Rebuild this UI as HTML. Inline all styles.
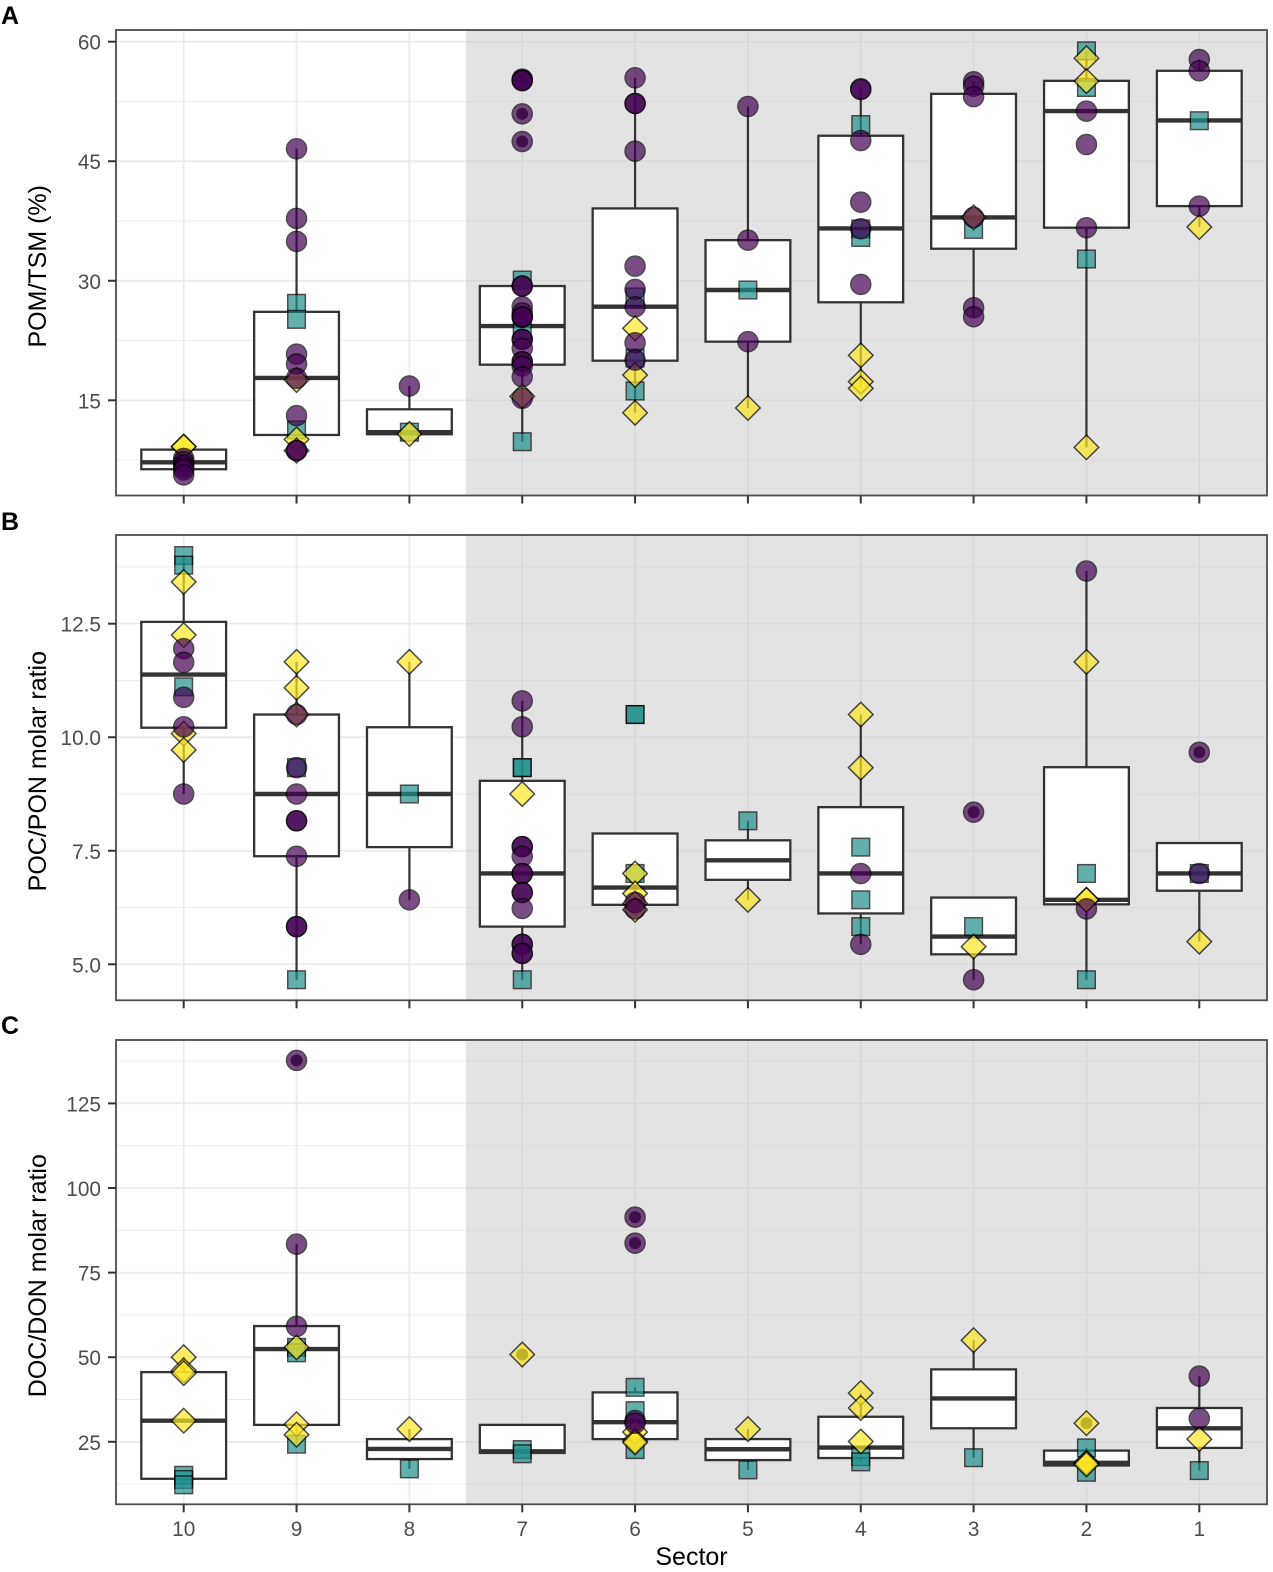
<!DOCTYPE html>
<html lang="en">
<head>
<meta charset="utf-8">
<title>POM/TSM, POC/PON and DOC/DON by sector</title>
<style>
  html, body { margin: 0; padding: 0; background: #fff; }
  #figure { display: block; width: 1273px; height: 1572px; }
  text { font-family: "Liberation Sans", Arial, sans-serif; }
</style>
</head>
<body>
<svg id="figure" xmlns="http://www.w3.org/2000/svg" width="1273" height="1572" viewBox="0 0 1273 1572"></svg>
<script>
// ---------- shared ----------
const sectors = ["10","9","8","7","6","5","4","3","2","1"];

// ---------- panel A : POM/TSM ----------
const pomTicks = [15,30,45,60];
const pomTickLabels = ["15","30","45","60"];
const pomMinor = [7.5,22.5,37.5,52.5];
const pomQ1 = [6.35,10.65,10.74,19.47,19.97,22.36,27.3,34.02,36.66,39.37];
const pomMedian = [7.22,17.8,11,24.32,26.75,28.84,36.57,37.95,51.29,50.12];
const pomQ3 = [8.81,26.1,13.87,29.34,39.08,35.1,48.2,53.46,55.09,56.35];
const pomWhiskerLow = [5.64,8.69,10.74,9.8,13.44,14.04,16.5,25.49,9.1,36.74];
const pomWhiskerHigh = [9.2,46.56,16.8,30.1,55.47,51.87,54.1,54.97,58.85,57.77];
const pomOutliers = [[],[],[],[55.18,50.95,47.48],[],[],[],[],[],[]];
const pomSquares = [[],[27.17,25.16,11.28],[11],[30.09,23.8,9.8],[27.96,20.3,16.17],[28.84],[49.6,36.5,35.44],[36.45],[58.85,54.26,32.73],[50.08]];
const pomDiamonds = [[9.19,9.19],[17.55,10.1,8.69],[10.78],[15.5],[24.03,18.17,13.44],[14.04],[20.64,17.34,16.5],[37.95],[57.93,55.05,9.1],[36.74]];
const pomCircles = [
  [7.7,7.3,6.9,6.6,6.26,5.64],
  [46.56,37.83,34.94,20.8,19.56,17.76,13.08,8.69,8.69],
  [16.8],
  [55.3,55.18,55.1,50.95,47.48,29.34,29.34,26.74,25.95,25.45,25.45,25.45,22.65,22.65,21.52,19.84,19.84,19.3,17.96,15.25],
  [55.47,52.25,52.25,46.27,31.84,28.92,26.74,22.22,20.05],
  [51.87,35.1,22.36],
  [54.1,54.0,47.6,39.87,36.53,29.55],
  [54.97,54.42,53.1,37.95,26.62,25.49],
  [51.29,47.1,36.66],
  [57.77,56.35,39.37]
];

// ---------- panel B : POC/PON ----------
const pocTicks = [5,7.5,10,12.5];
const pocTickLabels = ["5.0","7.5","10.0","12.5"];
const pocMinor = [6.25,8.75,11.25,13.75];
const pocQ1 = [10.21,7.38,7.58,5.83,6.31,6.86,6.12,5.22,6.32,6.62];
const pocMedian = [11.38,8.75,8.75,7.0,6.69,7.29,7.0,5.61,6.42,7.0];
const pocQ3 = [12.54,10.5,10.22,9.04,7.88,7.73,8.46,6.47,9.34,7.67];
const pocWhiskerLow = [8.75,4.66,6.42,4.66,6.2,6.42,5.44,4.66,4.66,5.5];
const pocWhiskerHigh = [14.0,11.66,11.66,10.8,7.88,8.16,10.5,6.47,13.66,7.67];
const pocOutliers = [[],[],[],[],[],[],[],[8.35],[],[9.67]];
const pocSquares = [[14.0,13.79,11.11],[9.33,4.66],[8.75],[9.33,9.33,4.66],[10.5,10.5,7.0],[8.16],[7.58,6.42,5.83],[5.83],[7.0,4.66],[7.0]];
const pocDiamonds = [[13.42,12.25,10.08,9.72],[11.66,11.09,10.5],[11.66],[8.75],[7.0,6.56,6.34,6.2],[6.42],[10.5,9.33],[5.39],[11.66,6.42,6.42],[5.5]];
const pocCircles = [
  [11.95,11.65,10.88,10.23,8.75],
  [10.5,9.33,8.75,8.16,8.16,7.38,5.83,5.83],
  [6.42],
  [10.8,10.23,7.59,7.59,7.38,7.0,7.0,6.58,6.58,6.23,5.44,5.44,5.24,5.24],
  [6.36,6.22],
  [],
  [7.0,5.44],
  [8.35,4.66],
  [13.66,6.22],
  [9.67,7.0]
];

// ---------- panel C : DOC/DON ----------
const docTicks = [25,50,75,100,125];
const docTickLabels = ["25","50","75","100","125"];
const docMinor = [12.5,37.5,62.5,87.5,112.5,137.5];
const docQ1 = [14.07,30,19.9,21.7,25.8,19.6,20.2,29,18,23.2];
const docMedian = [31.24,52.4,22.9,22.2,30.8,22.8,23.3,37.8,18.8,29];
const docQ3 = [45.6,59.2,25.8,30,39.6,25.8,32.4,46.4,22.4,35];
const docWhiskerLow = [12.3,24.3,17,21.5,22.7,16.7,19.07,20.3,16,16.5];
const docWhiskerHigh = [50,83.4,28.75,30,41.1,28.75,39.4,55,23.2,44.4];
const docOutliers = [[],[137.7],[],[50.8],[91.4,83.7],[],[],[],[30.5],[]];
const docSquares = [[15.1,13.87,12.3],[52.9,51.3,24.3],[17],[22.7,21.46],[41.1,34.2,22.7],[16.7],[20.6,19.07],[20.3],[23.2,16.0],[16.5]];
const docDiamonds = [[50,46.1,45.3,31.24],[52.9,30.2,27.1],[28.75],[50.8],[27.9,25.3,24.8],[28.75],[39.4,35,25.1],[55],[30.5,18.8,18.8,18.3],[25.8]];
const docCircles = [
  [],
  [137.7,83.4,59.1],
  [],
  [],
  [91.4,83.7,31.3,30.5],
  [],
  [],
  [],
  [],
  [44.4,31.9]
];

// ---------- layout ----------
const NS = "http://www.w3.org/2000/svg";
const svg = document.getElementById("figure");
const panelLeft = 116, panelRight = 1267;
const unitX = (panelRight - panelLeft) / 10.2;
function xPos(i) { return panelLeft + (i + 0.6) * unitX; }
function linearScale(v0, y0, v1, y1) { return function (v) { return y0 + (v - v0) * (y1 - y0) / (v1 - v0); }; }

function make(parent, tag, attrs, label) {
  const el = document.createElementNS(NS, tag);
  for (const k in attrs) el.setAttribute(k, attrs[k]);
  if (label !== undefined) el.textContent = label;
  parent.appendChild(el);
  return el;
}
function group(parent, name) {
  const g = document.createElementNS(NS, "g");
  
  
  parent.appendChild(g);
  return g;
}

const panels = [
  { id:"pom", letter:"A", letterY:24, title:"POM/TSM (%)", top:30, bottom:495.5, y:linearScale(15,400.3,60,41.7),
    ticks:pomTicks, tickLabels:pomTickLabels, minor:pomMinor, q1:pomQ1, med:pomMedian, q3:pomQ3, lo:pomWhiskerLow, hi:pomWhiskerHigh,
    out:pomOutliers, sq:pomSquares, di:pomDiamonds, ci:pomCircles },
  { id:"poc", letter:"B", letterY:530, title:"POC/PON molar ratio", top:535, bottom:1000.3, y:linearScale(5,964.3,12.5,623.7),
    ticks:pocTicks, tickLabels:pocTickLabels, minor:pocMinor, q1:pocQ1, med:pocMedian, q3:pocQ3, lo:pocWhiskerLow, hi:pocWhiskerHigh,
    out:pocOutliers, sq:pocSquares, di:pocDiamonds, ci:pocCircles },
  { id:"doc", letter:"C", letterY:1034, title:"DOC/DON molar ratio", top:1040, bottom:1504.3, y:linearScale(25,1441.8,125,1103.4),
    ticks:docTicks, tickLabels:docTickLabels, minor:docMinor, q1:docQ1, med:docMedian, q3:docQ3, lo:docWhiskerLow, hi:docWhiskerHigh,
    out:docOutliers, sq:docSquares, di:docDiamonds, ci:docCircles }
];

const boxHalf = 42.4, circleR = 10, squareHalf = 8.8, diamondHalf = 12.3;
const ink = "#333333";

panels.forEach(function (p, pIndex) {
  const root = group(svg, "panel-" + p.letter.toLowerCase());
  const y = p.y;
  const shadeX = xPos(2.5);

  // panel letter
  const letter = make(root, "text", { x:1, y:p.letterY, "font-size":25, "font-weight":"bold", fill:"#000" }, p.letter);
  
  

  // y title
  const cy = (p.top + p.bottom) / 2 + 3.5;
  const title = make(root, "text", { x:0, y:0, "font-size":25, fill:"#000", "text-anchor":"middle", transform:"translate(46 " + cy + ") rotate(-90)" }, p.title);
  
  

  // shaded region (sectors 7 to 1)
  const shade = make(root, "rect", { x:shadeX, y:p.top, width:panelRight - shadeX, height:p.bottom - p.top, fill:"#e3e3e3" });
  
  

  // grid: light on white part, slightly darker on the shaded part
  const grid = group(root, "grid-lines");
  function hLine(v, w) {
    make(grid, "line", { x1:panelLeft, x2:shadeX, y1:y(v), y2:y(v), stroke:"#ebebeb", "stroke-width":w });
    make(grid, "line", { x1:shadeX, x2:panelRight, y1:y(v), y2:y(v), stroke:"#d9d9d9", "stroke-width":w });
  }
  p.minor.forEach(function (v) { hLine(v, 0.9); });
  p.ticks.forEach(function (v) { hLine(v, 1.7); });
  sectors.forEach(function (s, i) {
    make(grid, "line", { x1:xPos(i), x2:xPos(i), y1:p.top, y2:p.bottom, stroke: i < 3 ? "#ebebeb" : "#d9d9d9", "stroke-width":1.7 });
  });

  // boxplots
  const boxes = group(root, "boxplots");
  sectors.forEach(function (s, i) {
    const x = xPos(i);
    const b = group(boxes, "box-sector-" + s);
    make(b, "line", { x1:x, x2:x, y1:y(p.hi[i]), y2:y(p.lo[i]), stroke:ink, "stroke-width":2.2 });
    make(b, "rect", { x:x - boxHalf, y:y(p.q3[i]), width:boxHalf * 2, height:y(p.q1[i]) - y(p.q3[i]), fill:"#fff", stroke:ink, "stroke-width":2.3 });
    make(b, "line", { x1:x - boxHalf, x2:x + boxHalf, y1:y(p.med[i]), y2:y(p.med[i]), stroke:ink, "stroke-width":4.4 });
    p.out[i].forEach(function (v) {
      make(b, "circle", { cx:x, cy:y(v), r:6, fill:ink });
    });
  });

  // points, squares then diamonds then circles
  const pts = group(root, "data-points");
  const markStyle = { stroke:"#000", "stroke-width":1.5, opacity:0.7 };
  sectors.forEach(function (s, i) {
    const x = xPos(i);
    p.sq[i].forEach(function (v) {
      const el = make(pts, "rect", Object.assign({ x:x - squareHalf, y:y(v) - squareHalf, width:squareHalf * 2, height:squareHalf * 2, fill:"#21908c" }, markStyle));
      
      
    });
  });
  sectors.forEach(function (s, i) {
    const x = xPos(i);
    p.di[i].forEach(function (v) {
      const c = y(v), d = diamondHalf;
      const el = make(pts, "polygon", Object.assign({ points:x + "," + (c - d) + " " + (x + d) + "," + c + " " + x + "," + (c + d) + " " + (x - d) + "," + c, fill:"#fde725" }, markStyle));
      
      
    });
  });
  sectors.forEach(function (s, i) {
    const x = xPos(i);
    p.ci[i].forEach(function (v) {
      const el = make(pts, "circle", Object.assign({ cx:x, cy:y(v), r:circleR, fill:"#440154" }, markStyle));
      
      
    });
  });

  // border
  const border = make(root, "rect", { x:panelLeft, y:p.top, width:panelRight - panelLeft, height:p.bottom - p.top, fill:"none", stroke:"#4d4d4d", "stroke-width":1.8 });
  
  

  // y axis
  const yAxis = group(root, "y-axis");
  p.ticks.forEach(function (v, k) {
    make(yAxis, "line", { x1:panelLeft - 8, x2:panelLeft, y1:y(v), y2:y(v), stroke:ink, "stroke-width":2 });
    const t = make(yAxis, "text", { x:101, y:y(v) + 8, "font-size":20.8, fill:"#4d4d4d", "text-anchor":"end" }, p.tickLabels[k]);
    
    
  });

  // x axis
  const xAxis = group(root, "x-axis");
  sectors.forEach(function (s, i) {
    make(xAxis, "line", { x1:xPos(i), x2:xPos(i), y1:p.bottom, y2:p.bottom + 8, stroke:ink, "stroke-width":2 });
    if (pIndex === 2) {
      const t = make(xAxis, "text", { x:xPos(i), y:1536, "font-size":20.8, fill:"#4d4d4d", "text-anchor":"middle" }, s);
      
      
    }
  });
});

const xTitle = make(svg, "text", { x:691.5, y:1565, "font-size":25, fill:"#000", "text-anchor":"middle" }, "Sector");


</script>
</body>
</html>
